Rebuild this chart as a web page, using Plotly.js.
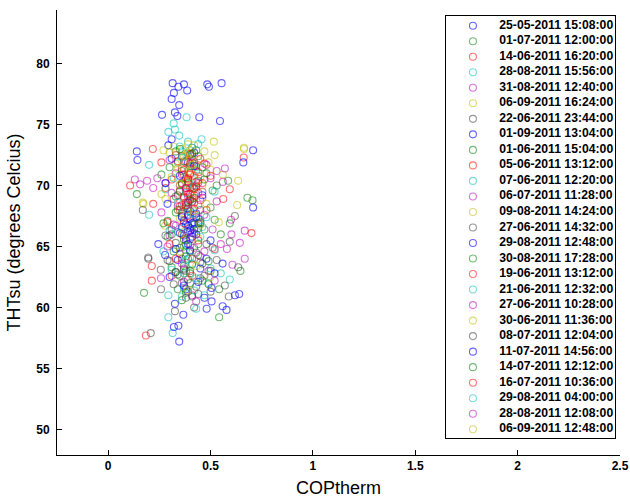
<!DOCTYPE html>
<html><head><meta charset="utf-8">
<script src="https://cdn.plot.ly/plotly-3.0.1.min.js"></script>
<style>html,body{margin:0;padding:0;background:#fff}#plot{width:630px;height:503px}</style>
</head><body><div id="plot"></div>
<script>
const seriesNames = ["25-05-2011 15:08:00","01-07-2011 12:00:00","14-06-2011 16:20:00","28-08-2011 15:56:00","31-08-2011 12:40:00","06-09-2011 16:24:00","22-06-2011 23:44:00","01-09-2011 13:04:00","01-06-2011 15:04:00","05-06-2011 13:12:00","07-06-2011 12:20:00","06-07-2011 11:28:00","09-08-2011 14:24:00","27-06-2011 14:32:00","29-08-2011 12:48:00","30-08-2011 17:28:00","19-06-2011 13:12:00","21-06-2011 12:32:00","27-06-2011 10:28:00","30-06-2011 11:36:00","08-07-2011 12:04:00","11-07-2011 14:56:00","14-07-2011 12:12:00","16-07-2011 10:36:00","29-08-2011 04:00:00","28-08-2011 12:08:00","06-09-2011 12:48:00"];
const colorCycle = ["rgba(0,0,255,0.6)","rgba(0,128,0,0.55)","rgba(255,0,0,0.55)","rgba(0,191,191,0.55)","rgba(191,0,191,0.55)","rgba(191,191,0,0.55)","rgba(64,64,64,0.55)"];

const s01x=[0.315,0.343,0.37,0.386,0.321,0.31,0.347,0.484,0.492,0.554,0.263,0.326,0.338,0.445,0.546,0.31,0.294,0.14,0.143,0.708,0.36,0.39,0.42];
const s01y=[78.4,78.1,78.3,77.8,77.6,77.1,76.6,78.3,78.1,78.4,75.8,76.0,75.7,75.6,75.3,73.8,73.3,72.8,72.1,72.9,72.4,71.9,72.7];
const s02x=[0.14,0.68,0.705,0.586,0.594,0.175,0.542,0.542,0.646,0.40,0.42,0.38,0.45,0.36,0.44,0.33,0.39,0.47,0.35,0.41,0.43,0.37,0.29,0.51];
const s02y=[69.3,69.0,68.8,70.4,66.9,61.2,59.2,61.5,63.0,72.5,71.8,70.6,68.0,67.5,65.2,69.1,64.0,66.4,62.6,60.9,70.3,63.4,67.1,69.6];
const s03x=[0.38,0.40,0.36,0.42,0.39,0.41,0.37,0.43,0.35,0.40,0.44,0.38,0.39,0.42,0.36,0.41,0.45,0.37,0.40,0.43,0.38,0.35,0.41,0.39,0.44];
const s03y=[69.5,69.8,70.2,69.2,70.6,68.9,69.0,70.0,69.6,71.0,69.4,68.6,70.3,70.8,71.4,69.9,68.8,70.9,69.3,71.2,72.0,68.3,72.4,68.1,70.4];
const s04x=[0.383,0.32,0.326,0.294,0.347,0.456,0.2,0.2,0.294,0.294,0.315,0.594,0.36,0.41,0.45,0.38,0.50];
const s04y=[75.6,75.1,74.6,74.4,74.1,73.8,71.7,67.6,61.0,59.2,57.9,62.3,72.8,71.6,67.2,64.7,63.2];
const s05x=[0.13,0.156,0.258,0.667,0.602,0.643,0.667,0.607,0.19,0.22,0.24,0.35,0.39,0.44,0.32,0.47,0.53];
const s05y=[70.5,70.1,62.4,66.3,66.0,65.3,64.0,63.5,70.4,69.8,70.6,70.0,69.1,68.4,66.8,64.6,68.7];
const s06x=[0.516,0.663,0.664,0.635,0.172,0.278,0.63,0.169,0.28,0.32,0.38,0.41,0.35,0.44,0.49];
const s06y=[73.6,73.1,73.0,70.4,68.5,66.7,68.4,68.6,68.9,73.2,72.6,71.4,70.1,65.7,71.9];
const s07x=[0.169,0.196,0.196,0.257,0.258,0.208,0.326,0.589,0.619,0.594,0.635,0.36,0.40,0.44,0.33,0.38,0.29,0.51];
const s07y=[68.0,64.1,64.0,63.1,61.5,57.9,59.7,60.9,67.5,65.4,63.3,62.0,64.6,61.1,65.3,68.3,63.9,64.9];
const s08x=[0.38,0.40,0.41,0.39,0.42,0.37,0.40,0.43,0.36,0.41,0.39,0.44,0.38,0.42,0.35,0.40,0.39,0.41,0.37,0.43,0.40];
const s08y=[66.8,66.5,66.9,66.2,66.4,67.1,67.3,66.0,66.6,65.8,67.6,66.9,65.5,67.0,66.1,66.3,66.7,66.1,65.9,67.4,67.9];
const s09x=[0.33,0.37,0.41,0.44,0.39,0.35,0.48,0.31,0.43,0.38,0.46,0.34,0.40,0.52,0.29,0.36,0.42,0.38,0.45,0.33,0.40,0.50];
const s09y=[72.8,72.0,73.1,72.4,70.2,69.5,71.0,66.0,64.5,63.0,62.2,61.5,68.8,67.2,65.8,60.6,66.8,65.1,63.7,62.9,71.6,63.0];
const s10x=[0.107,0.218,0.22,0.213,0.213,0.184,0.31,0.662,0.594,0.562,0.70,0.33,0.47,0.29,0.52,0.37,0.42,0.39,0.44,0.36,0.32];
const s10y=[70.0,73.0,68.5,63.4,62.2,57.7,62.6,72.3,69.7,68.9,66.1,72.5,71.8,67.0,64.8,69.1,69.7,70.5,71.1,68.4,68.9];
const s11x=[0.35,0.40,0.43,0.38,0.46,0.33,0.41,0.37,0.49,0.30,0.44,0.36,0.52,0.39,0.42,0.34];
const s11y=[73.2,72.9,71.5,69.4,66.6,64.8,63.6,62.8,62.0,66.3,70.8,60.9,64.7,67.9,61.4,71.9];
const s12x=[0.28,0.31,0.33,0.36,0.48,0.50,0.53,0.46,0.38,0.42,0.56,0.35,0.40,0.44,0.37,0.30];
const s12y=[70.2,69.4,71.0,70.9,71.7,70.6,71.2,69.5,65.7,66.1,70.3,64.4,68.9,67.3,63.1,65.9];
const s13x=[0.36,0.39,0.42,0.44,0.47,0.33,0.50,0.38,0.41,0.35,0.40,0.45,0.37];
const s13y=[73.0,72.7,73.3,72.1,72.8,71.8,71.3,70.4,69.0,67.3,72.2,70.7,66.2];
const s14x=[0.30,0.35,0.40,0.45,0.32,0.38,0.43,0.48,0.28,0.53,0.41,0.36,0.39,0.34,0.46];
const s14y=[63.8,64.9,63.0,62.4,61.9,60.8,61.7,65.2,65.9,63.9,68.7,67.7,61.3,62.7,63.6];
const s15x=[0.326,0.367,0.321,0.343,0.347,0.578,0.559,0.481,0.505,0.619,0.64,0.505,0.559,0.245,0.278,0.66,0.708,0.40,0.44,0.38];
const s15y=[60.3,59.4,58.4,58.5,57.2,59.8,60.1,59.9,60.5,61.0,61.1,61.6,63.6,65.2,64.3,71.9,68.2,64.7,62.1,61.5];
const s16x=[0.30,0.35,0.42,0.47,0.38,0.50,0.33,0.44,0.26,0.40,0.55,0.37,0.43,0.31,0.39,0.41,0.36,0.49];
const s16y=[71.5,73.0,69.8,70.5,64.2,68.2,67.8,66.5,70.9,62.0,66.0,65.0,72.9,63.3,68.6,63.5,70.1,61.9];
const s17x=[0.34,0.37,0.40,0.43,0.46,0.31,0.39,0.36,0.44,0.28,0.48,0.41,0.38,0.42,0.40];
const s17y=[72.0,71.3,72.6,71.6,70.2,70.5,67.5,66.0,65.5,69.8,68.0,64.0,69.8,68.6,70.9];
const s18x=[0.39,0.42,0.34,0.45,0.31,0.37,0.48,0.40,0.28,0.55,0.43,0.36];
const s18y=[73.6,70.0,68.6,65.8,63.1,61.6,67.4,64.1,69.7,62.8,62.4,66.5];
const s19x=[0.30,0.34,0.40,0.45,0.51,0.55,0.37,0.43,0.26,0.49,0.58,0.41,0.38,0.46];
const s19y=[72.1,68.3,65.1,64.2,66.4,65.2,62.1,60.5,67.8,63.0,64.8,71.9,69.8,69.0];
const s20x=[0.30,0.34,0.40,0.46,0.52,0.37,0.43,0.26,0.48,0.56,0.39,0.42];
const s20y=[72.7,71.4,71.2,70.0,72.5,65.5,63.4,69.3,68.5,70.9,73.4,67.6];
const s21x=[0.33,0.39,0.44,0.37,0.42,0.47,0.31,0.50,0.34,0.57,0.40,0.36,0.45];
const s21y=[62.9,62.3,64.3,63.2,60.0,62.6,66.4,61.3,69.2,61.8,65.6,64.0,66.9];
const s22x=[0.30,0.33,0.45,0.48,0.35,0.52,0.29,0.37,0.46,0.31,0.50,0.42,0.34,0.28,0.47,0.39,0.43,0.36];
const s22y=[62.5,64.8,63.2,64.0,70.8,62.8,68.5,61.8,69.2,72.2,65.5,71.6,63.9,70.2,60.8,65.2,67.7,67.4];
const s23x=[0.36,0.41,0.39,0.45,0.32,0.49,0.38,0.42,0.27,0.34,0.46,0.53,0.40,0.37];
const s23y=[71.2,72.6,68.2,67.0,64.6,63.8,61.2,69.0,66.9,68.0,71.5,70.0,62.8,65.6];
const s24x=[0.35,0.38,0.42,0.40,0.37,0.45,0.33,0.41,0.50,0.30,0.26,0.39,0.43];
const s24y=[68.0,68.4,68.1,71.8,66.9,72.2,64.0,62.6,70.8,65.2,71.9,69.3,69.9];
const s25x=[0.36,0.44,0.32,0.41,0.38,0.47,0.27,0.43,0.34,0.52,0.39];
const s25y=[72.3,73.4,70.6,67.7,63.9,61.0,64.6,59.9,66.2,69.5,65.0];
const s26x=[0.33,0.39,0.44,0.47,0.36,0.29,0.52,0.41,0.57,0.60,0.42];
const s26y=[66.7,68.6,70.2,67.6,63.6,65.0,62.2,61.0,71.4,67.2,64.9];
const s27x=[0.31,0.37,0.42,0.45,0.35,0.50,0.39,0.27,0.54,0.41];
const s27y=[70.7,72.4,67.9,66.8,64.6,62.5,61.4,72.9,67.0,71.7];

const xs=[s01x,s02x,s03x,s04x,s05x,s06x,s07x,s08x,s09x,s10x,s11x,s12x,s13x,s14x,s15x,s16x,s17x,s18x,s19x,s20x,s21x,s22x,s23x,s24x,s25x,s26x,s27x];
const ys=[s01y,s02y,s03y,s04y,s05y,s06y,s07y,s08y,s09y,s10y,s11y,s12y,s13y,s14y,s15y,s16y,s17y,s18y,s19y,s20y,s21y,s22y,s23y,s24y,s25y,s26y,s27y];

const xTickVals=[0,0.5,1,1.5,2,2.5];
const yTickVals=[50,55,60,65,70,75,80];

const traces=[];
seriesNames.forEach((name,i)=>{
  traces.push({type:'scatter',mode:'markers',name:name,x:xs[i],y:ys[i],showlegend:false,hoverinfo:'skip',
    marker:{symbol:'circle-open',size:7,color:colorCycle[i%7],line:{width:1.1,color:colorCycle[i%7]}}});
});
// legend drawn in a secondary axis box
const idx=seriesNames.map((_,i)=>i);
traces.push({type:'scatter',mode:'markers',xaxis:'x2',yaxis:'y2',x:idx.map(()=>0.159),y:idx,showlegend:false,hoverinfo:'skip',
  marker:{symbol:'circle-open',size:7,color:idx.map(i=>colorCycle[i%7]),line:{width:1.1,color:idx.map(i=>colorCycle[i%7])}}});
traces.push({type:'scatter',mode:'text',xaxis:'x2',yaxis:'y2',x:idx.map(()=>0.315),y:idx,text:seriesNames,textposition:'middle right',showlegend:false,hoverinfo:'skip',
  textfont:{family:'Liberation Sans, Arial, sans-serif',size:12.2,color:'#000',weight:'bold'}});

const tickFont={family:'Liberation Sans, Arial, sans-serif',size:12,color:'#000',weight:'bold'};
const layout={
  width:630,height:503,
  margin:{l:57,r:10,t:10,b:48,pad:0},
  paper_bgcolor:'#fff',plot_bgcolor:'#fff',
  showlegend:false,
  font:{family:'Liberation Sans, Arial, sans-serif',color:'#000'},
  xaxis:{range:[-0.25,2.5],tickvals:xTickVals,ticktext:xTickVals.map(String),showgrid:false,zeroline:false,
    showline:true,linecolor:'#000',linewidth:1,ticks:'inside',ticklen:5,tickcolor:'#000',tickfont:tickFont,
    title:{text:'COPtherm',font:{size:18,family:'Liberation Sans, Arial, sans-serif'},standoff:8}},
  yaxis:{range:[47.9,84.4],tickvals:yTickVals,ticktext:yTickVals.map(String),showgrid:false,zeroline:false,
    showline:true,linecolor:'#000',linewidth:1,ticks:'inside',ticklen:5,tickcolor:'#000',tickfont:tickFont,ticklabelstandoff:4,
    title:{text:'THTsu (degrees Celcius)',font:{size:18,family:'Liberation Sans, Arial, sans-serif'},standoff:10}},
  xaxis2:{domain:[0.691,0.9915],range:[0,1],anchor:'y2',showgrid:false,zeroline:false,showticklabels:false,ticks:'',
    showline:true,mirror:true,linecolor:'#000',linewidth:1,fixedrange:true},
  yaxis2:{domain:[0.038,0.9865],range:[26.57,-0.625],anchor:'x2',showgrid:false,zeroline:false,showticklabels:false,ticks:'',
    showline:true,mirror:true,linecolor:'#000',linewidth:1,fixedrange:true}
};
Plotly.newPlot('plot',traces,layout,{displayModeBar:false,staticPlot:true});
</script></body></html>
